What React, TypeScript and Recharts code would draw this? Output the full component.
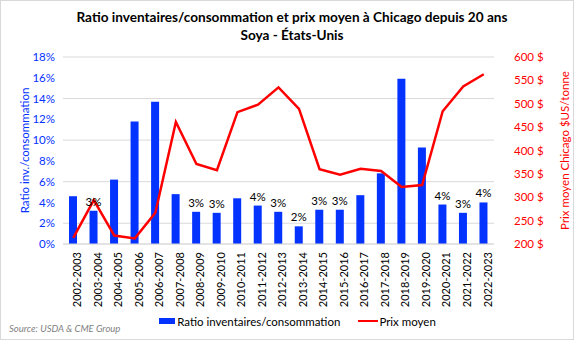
import React from "react";
import {
  ComposedChart,
  Bar,
  Line,
  XAxis,
  YAxis,
  CartesianGrid,
  Legend,
  LabelList,
} from "recharts";

const seasons = [
  "2002-2003", "2003-2004", "2004-2005", "2005-2006", "2006-2007",
  "2007-2008", "2008-2009", "2009-2010", "2010-2011", "2011-2012",
  "2012-2013", "2013-2014", "2014-2015", "2015-2016", "2016-2017",
  "2017-2018", "2018-2019", "2019-2020", "2020-2021", "2021-2022",
  "2022-2023",
];

// ratio inventaires/consommation, en %
const ratios = [
  4.6, 3.2, 6.2, 11.8, 13.7, 4.8, 3.1, 3.0, 4.4, 3.7, 3.1,
  1.7, 3.3, 3.3, 4.7, 6.8, 15.9, 9.3, 3.8, 3.0, 4.0,
];

// étiquettes affichées au-dessus de certaines barres seulement
const barLabels = [
  "", "3%", "", "", "", "", "3%", "3%", "", "4%", "3%",
  "2%", "3%", "3%", "", "", "", "", "4%", "3%", "4%",
];

// prix moyen Chicago, $US/tonne
const prices = [
  213, 294, 218, 212, 267, 461, 371, 358, 482, 498, 535,
  489, 360, 348, 361, 356, 322, 326, 484, 537, 563,
];

const ratioTicks = [0, 2, 4, 6, 8, 10, 12, 14, 16, 18];
const priceTicks = [200, 250, 300, 350, 400, 450, 500, 550, 600];

const data = seasons.map((season, i) => ({
  season,
  ratio: ratios[i],
  label: barLabels[i],
  price: prices[i],
}));

const FONT = "Lato, 'Open Sans', sans-serif";
const BLUE = "#0433FF";
const RED = "#FF0000";

function LegendContent() {
  return (
    <div
      style={{
        display: "flex",
        justifyContent: "center",
        alignItems: "center",
        height: 16,
        fontFamily: FONT,
        fontSize: 11.5,
        color: "#000",
        paddingLeft: 20,
      }}
    >
      <span style={{ display: "inline-block", width: 16, height: 6, background: BLUE }} />
      <span style={{ marginLeft: 2 }}>Ratio inventaires/consommation</span>
      <span style={{ display: "inline-block", width: 20, height: 2.5, background: RED, marginLeft: 18 }} />
      <span style={{ marginLeft: 1 }}>Prix moyen</span>
    </div>
  );
}

export default function App() {
  return (
    <div
      style={{
        position: "absolute",
        left: 0,
        top: 0,
        width: 574,
        height: 340,
        background: "#fff",
        boxSizing: "border-box",
        border: "1px solid #d9d9d9",
        fontFamily: FONT,
      }}
    >
      <div
        style={{
          position: "absolute",
          top: 7,
          left: 0,
          width: 582,
          textAlign: "center",
          fontWeight: 700,
          fontSize: 13.6,
          lineHeight: "18px",
          color: "#000",
        }}
      >
        Ratio inventaires/consommation et prix moyen à Chicago depuis 20 ans
        <br />
        Soya - États-Unis
      </div>
      <ComposedChart
        width={572}
        height={338}
        data={data}
        margin={{ top: 56, right: 6, bottom: 10, left: 7 }}
        style={{ fontFamily: FONT }}
      >
        <CartesianGrid yAxisId="left" vertical={false} stroke="#d9d9d9" />
        <XAxis
          dataKey="season"
          interval={0}
          angle={-90}
          textAnchor="end"
          height={69}
          tickLine={false}
          axisLine={{ stroke: "#d9d9d9" }}
          tick={{ fill: "#000", fontSize: 11 }}
        />
        <YAxis
          yAxisId="left"
          domain={[0, 18]}
          ticks={ratioTicks}
          width={55}
          tickLine={false}
          axisLine={false}
          tick={{ fill: BLUE, fontSize: 11.5 }}
          tickFormatter={(v: number) => `${v}%`}
          label={{
            value: "Ratio inv./consommation",
            angle: -90,
            position: "insideLeft",
            offset: 17,
            style: { textAnchor: "middle", fill: BLUE, fontSize: 11.5 },
          }}
        />
        <YAxis
          yAxisId="right"
          orientation="right"
          domain={[200, 600]}
          ticks={priceTicks}
          width={73}
          tickLine={false}
          axisLine={false}
          tickMargin={14}
          tick={{ fill: RED, fontSize: 11.5 }}
          tickFormatter={(v: number) => `${v} $`}
          label={{
            value: "Prix moyen Chicago $US/tonne",
            angle: -90,
            position: "insideRight",
            offset: 2,
            style: { textAnchor: "middle", fill: RED, fontSize: 11.5 },
          }}
        />
        <Legend verticalAlign="bottom" content={<LegendContent />} />
        <Bar
          yAxisId="left"
          dataKey="ratio"
          name="Ratio inventaires/consommation"
          fill={BLUE}
          barSize={8}
          isAnimationActive={false}
        >
          <LabelList dataKey="label" position="top" fill="#000" fontSize={11.5} />
        </Bar>
        <Line
          yAxisId="right"
          type="linear"
          dataKey="price"
          name="Prix moyen"
          stroke={RED}
          strokeWidth={2.5}
          dot={false}
          isAnimationActive={false}
        />
      </ComposedChart>
      <div
        style={{
          position: "absolute",
          left: 8,
          top: 322,
          fontSize: 9.5,
          fontStyle: "italic",
          color: "#7f7f7f",
        }}
      >
        Source: USDA &amp; CME Group
      </div>
    </div>
  );
}
